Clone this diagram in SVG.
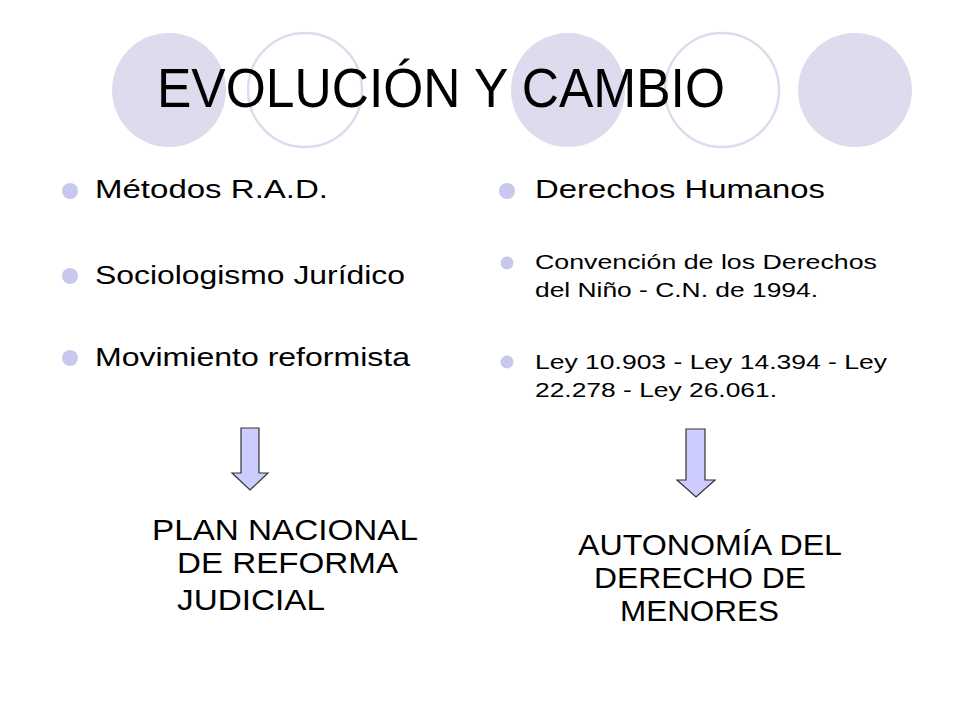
<svg xmlns="http://www.w3.org/2000/svg" width="960" height="720" viewBox="0 0 960 720">
<style>
text{font-family:"Liberation Sans",Arial,sans-serif;fill:#000}
.f{fill:#dcdcee}
.o{fill:none;stroke:#dcdcee;stroke-width:2.5}
.b{fill:#c8c8ee}
.arr{fill:#ccccff;stroke:#333;stroke-width:1.2}
.l{font-size:25px}
.s{font-size:19.5px}
.big{font-size:29px}
</style>
<rect width="960" height="720" fill="#fff"/>
<g id="decor">
<circle class="f" cx="169" cy="90" r="57"/>
<circle class="o" cx="305" cy="90" r="57"/>
<circle class="f" cx="568" cy="90" r="57"/>
<circle class="o" cx="722" cy="90" r="57"/>
<circle class="f" cx="855" cy="90" r="57"/>
</g>
<text id="title" x="157" y="107" font-size="55" textLength="568" lengthAdjust="spacingAndGlyphs">EVOLUCIÓN  Y CAMBIO</text>
<g id="left">
<circle class="b" cx="70" cy="191" r="8"/><text class="l" x="95" y="198" textLength="233" lengthAdjust="spacingAndGlyphs">Métodos R.A.D.</text>
<circle class="b" cx="70" cy="276" r="8"/><text class="l" x="95" y="284" textLength="310" lengthAdjust="spacingAndGlyphs">Sociologismo  Jurídico</text>
<circle class="b" cx="70" cy="358" r="8"/><text class="l" x="95" y="366" textLength="315" lengthAdjust="spacingAndGlyphs">Movimiento reformista</text>
</g>
<g id="right">
<circle class="b" cx="507" cy="191" r="8"/><text class="l" x="535" y="198" textLength="290" lengthAdjust="spacingAndGlyphs">Derechos  Humanos</text>
<circle class="b" cx="507" cy="263" r="6.5"/><text class="s" x="535" y="269" textLength="342" lengthAdjust="spacingAndGlyphs">Convención de los Derechos</text>
<text class="s" x="535" y="297" textLength="283" lengthAdjust="spacingAndGlyphs">del Niño - C.N. de 1994.</text>
<circle class="b" cx="507" cy="362" r="6.5"/><text class="s" x="535" y="369" textLength="352" lengthAdjust="spacingAndGlyphs">Ley 10.903 - Ley 14.394 - Ley</text>
<text class="s" x="535" y="397" textLength="242" lengthAdjust="spacingAndGlyphs">22.278 - Ley 26.061.</text>
</g>
<g id="connectors">
<path class="arr" d="M241 428H259V473H268L250 490L232 473H241Z"/>
<path class="arr" d="M686 429H705V480H715L696 497L677 480H686Z"/>
</g>
<g id="plan">
<text class="big" x="152" y="540" textLength="266" lengthAdjust="spacingAndGlyphs">PLAN NACIONAL</text>
<text class="big" x="177" y="573" textLength="221" lengthAdjust="spacingAndGlyphs">DE REFORMA</text>
<text class="big" x="177" y="610" textLength="148" lengthAdjust="spacingAndGlyphs">JUDICIAL</text>
</g>
<g id="autonomia">
<text class="big" x="578" y="555" textLength="264" lengthAdjust="spacingAndGlyphs">AUTONOMÍA DEL</text>
<text class="big" x="594" y="588" textLength="212" lengthAdjust="spacingAndGlyphs">DERECHO DE</text>
<text class="big" x="620" y="621" textLength="159" lengthAdjust="spacingAndGlyphs">MENORES</text>
</g>
</svg>
